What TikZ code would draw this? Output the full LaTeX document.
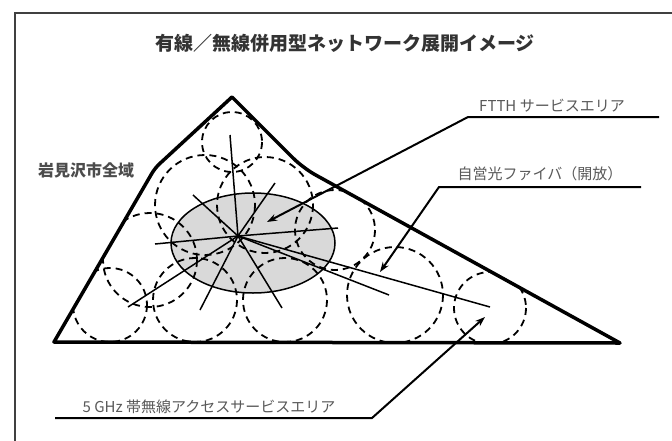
\documentclass[tikz,border=0pt]{standalone}
\usepackage{fontspec}
\newfontfamily\jp{Noto Sans CJK JP}
\usetikzlibrary{arrows.meta}

\begin{document}
\begin{tikzpicture}[
    x=1pt, y=-1pt,
    >=Stealth,
    title/.style={font=\jp\bfseries\fontsize{19}{19}\selectfont, text=black!80, inner sep=0pt},
    region/.style={font=\jp\bfseries\fontsize{16}{16}\selectfont, text=black!70, inner sep=0pt},
    lbl/.style={font=\jp\fontsize{15}{15}\selectfont, text=black!65, inner sep=0pt},
    frame/.style={draw=black!75, line width=2pt},
    area/.style={draw, line width=3.5pt, line join=round},
    zone/.style={draw, line width=1.8pt, dash pattern=on 7pt off 5pt},
    ftth/.style={draw, line width=1.5pt, fill=black!15},
    ray/.style={line width=1.5pt},
    leader/.style={line width=2pt, line join=miter, -{Stealth[length=10pt,width=7pt]}},
]
\useasboundingbox (0,0) rectangle (672,440);
\clip (0,0) rectangle (672,440);
\fill[white] (0,0) rectangle (672,440);

% ---- outer frame ----
\draw[frame] (15,13) rectangle (690,460);

\node[title] (ttl) at (345,43) {有線／無線併用型ネットワーク展開イメージ};

% ---- city area ----
\coordinate (bl) at (54,342);
\coordinate (kl) at (155,168);
\coordinate (pk) at (232,97);
\coordinate (kr) at (303,168);
\coordinate (br) at (620,343);
\coordinate (hub) at (238,236);

\draw[ftth] (253,243) ellipse [x radius=82, y radius=50];

% wireless cells
\begin{scope}
\clip (bl) -- (kl) -- (pk) -- (kr) -- (br) -- cycle;
\foreach \cx/\cy/\r in {232/142/30, 205/205/50, 265/205/48, 150/260/47,
    335/230/40, 110/305/37, 195/300/42, 285/300/42, 395/295/48, 490/308/36} {
    \draw[zone] (\cx,\cy) circle (\r);
}
\end{scope}

% fibre
\foreach \p in {(230,135),(275,183),(193,195),(155,244),(338,228),
    (128,307),(200,310),(282,308),(389,295),(490,307)} {
    \draw[ray] (hub) -- \p;
}

\draw[area] (bl) [rounded corners=6pt] -- (kl) [sharp corners] -- (pk)
    [rounded corners=14pt] -- (kr) [sharp corners] -- (br) -- cycle;

\node[region] (city) at (86,170) {岩見沢市全域};

% ---- labels ----
\node[lbl] (lftth) at (552,106) {FTTH サービスエリア};
\coordinate (ftthR) at (659,117);
\coordinate (ftthL) at (468,117);
\coordinate (ftthT) at (267,222);
\draw[leader] (ftthR) -- (ftthL) -- (ftthT);

\node[lbl] (lfiber) at (540,174) {自営光ファイバ（開放）};
\coordinate (fiberR) at (641,187);
\coordinate (fiberL) at (439,187);
\coordinate (fiberT) at (380,272);
\draw[leader] (fiberR) -- (fiberL) -- (fiberT);

\node[lbl] (lwifi) at (209,407) {5 GHz 帯無線アクセスサービスエリア};
\coordinate (wifiL) at (55,418);
\coordinate (wifiR) at (372,418);
\coordinate (wifiT) at (485,317);
\draw[leader] (wifiL) -- (wifiR) -- (wifiT);
\end{tikzpicture}
\end{document}
